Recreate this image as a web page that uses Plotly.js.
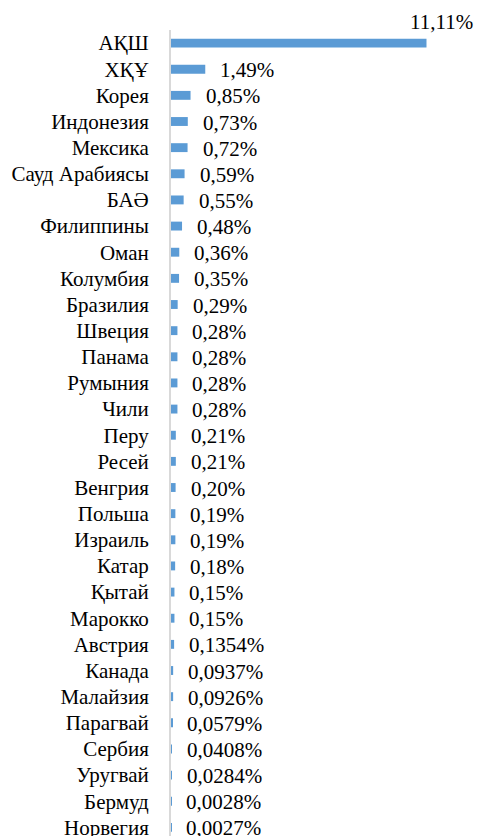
<!DOCTYPE html>
<html>
<head>
<meta charset="utf-8">
<script src="https://cdn.plot.ly/plotly-3.0.1.min.js"></script>
<style>html,body{margin:0;padding:0;background:#fff;}</style>
</head>
<body>
<div id="chart" style="width:478px;height:836px"></div>
<script>
const countries = ["АҚШ","ХҚҰ","Корея","Индонезия","Мексика","Сауд Арабиясы","БАӘ","Филиппины","Оман","Колумбия","Бразилия","Швеция","Панама","Румыния","Чили","Перу","Ресей","Венгрия","Польша","Израиль","Катар","Қытай","Марокко","Австрия","Канада","Малайзия","Парагвай","Сербия","Уругвай","Бермуд","Норвегия"];
const values = [11.11,1.49,0.85,0.73,0.72,0.59,0.55,0.48,0.36,0.35,0.29,0.28,0.28,0.28,0.28,0.21,0.21,0.20,0.19,0.19,0.18,0.15,0.15,0.1354,0.0937,0.0926,0.0579,0.0408,0.0284,0.0028,0.0027];
const labels = ["11,11%","1,49%","0,85%","0,73%","0,72%","0,59%","0,55%","0,48%","0,36%","0,35%","0,29%","0,28%","0,28%","0,28%","0,28%","0,21%","0,21%","0,20%","0,19%","0,19%","0,18%","0,15%","0,15%","0,1354%","0,0937%","0,0926%","0,0579%","0,0408%","0,0284%","0,0028%","0,0027%"];

const annotations = countries.map((c, i) => {
  const top = i === 0;
  return {
    x: values[i], y: c, xref: 'x', yref: 'y',
    text: labels[i], showarrow: false,
    xanchor: 'left', yanchor: 'middle',
    xshift: top ? -18 : 13, yshift: top ? 21 : -1,
    font: {family: 'Times New Roman', size: 21}
  };
});

Plotly.newPlot('chart', [{
  type: 'bar', orientation: 'h',
  x: values, y: countries,
  width: 0.34,
  marker: {color: '#5B9BD5'},
  hoverinfo: 'none'
}], {
  width: 478, height: 836,
  margin: {l: 171, r: 0, t: 30, b: 0},
  showlegend: false,
  font: {family: 'Times New Roman', size: 21, color: '#000000'},
  xaxis: {range: [0, 13.35], visible: false, showgrid: false, zeroline: false},
  yaxis: {
    type: 'category', categoryorder: 'array', categoryarray: countries,
    range: [30.33, -0.5],
    showline: true, linecolor: '#d9d9d9', linewidth: 2,
    ticks: '', showgrid: false, zeroline: false,
    ticklabelstandoff: 16,
    tickfont: {family: 'Times New Roman', size: 21}
  },
  annotations: annotations
}, {displayModeBar: false});
</script>
</body>
</html>
